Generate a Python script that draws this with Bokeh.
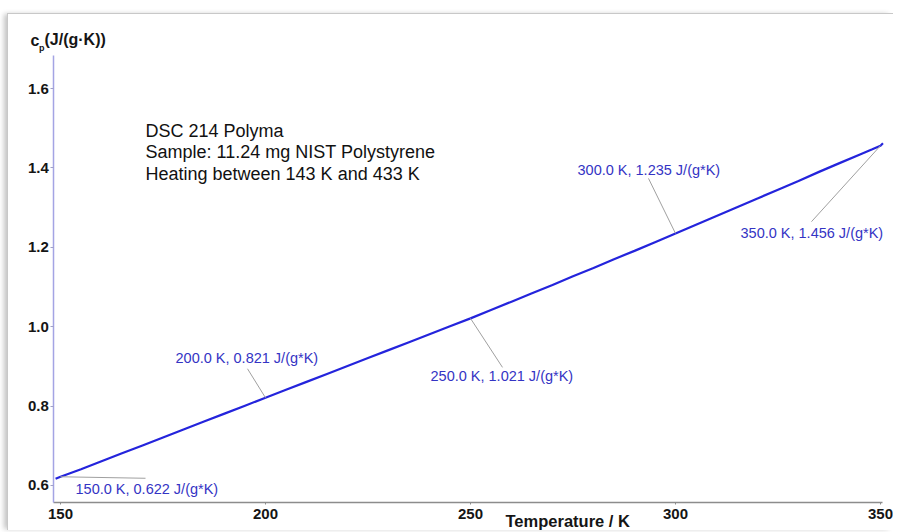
from bokeh.plotting import figure
from bokeh.models import Label, Range1d, FixedTicker, PrintfTickFormatter
from bokeh.embed import file_html
from bokeh.resources import INLINE

# ---- data ----
temp_K = [148.8, 150, 155, 160, 165, 170, 175, 180, 185, 190, 195, 200, 205, 210, 215, 220,
          225, 230, 235, 240, 245, 250, 255, 260, 265, 270, 275, 280, 285, 290, 295, 300,
          305, 310, 315, 320, 325, 330, 335, 340, 345, 348, 350, 350.6]
cp = [0.617, 0.622, 0.641, 0.661, 0.681, 0.701, 0.721, 0.741, 0.761, 0.781, 0.801, 0.821,
      0.841, 0.861, 0.881, 0.901, 0.921, 0.941, 0.961, 0.981, 1.001, 1.021, 1.042, 1.063,
      1.084, 1.105, 1.127, 1.148, 1.170, 1.191, 1.213, 1.235, 1.257, 1.279, 1.301, 1.323,
      1.345, 1.367, 1.390, 1.412, 1.434, 1.447, 1.456, 1.462]

ann_T = [150.0, 200.0, 250.0, 300.0, 350.0]
ann_cp = [0.622, 0.821, 1.021, 1.235, 1.456]
ann_text = ["150.0 K, 0.622 J/(g*K)", "200.0 K, 0.821 J/(g*K)", "250.0 K, 1.021 J/(g*K)",
            "300.0 K, 1.235 J/(g*K)", "350.0 K, 1.456 J/(g*K)"]

x_ticks = [150, 200, 250, 300, 350]
y_ticks = [0.6, 0.8, 1.0, 1.2, 1.4, 1.6]

info_lines = ["DSC 214 Polyma", "Sample: 11.24 mg NIST Polystyrene",
              "Heating between 143 K and 433 K"]

# ---- styling / layout ----
FONT = "Liberation Sans"
LINE_BLUE = "#2424dc"
TEXT_BLUE = "#3434c4"
# label offsets (dx, dy) from annotated point, screen px (dy positive = up)
label_off = [(15, -12), (-90, 40), (-40, -58), (-98, 63), (-140, -87)]
# leader-line end offsets from annotated point, screen px (dy positive = up)
leader_off = [(85, -1.5), (-18, 29), (32, -49), (-27, 55), (-69, -76)]

W, H = 886, 517                      # canvas = frame size in px
XS, XE = 137.317, 353.415            # full canvas x extent (data)
YS, YE = 0.48413, 1.78640            # full canvas y extent (data)
AX_X0, AX_X1 = 148.37, 350.5         # axis extents (data)
AX_Y0, AX_Y1 = 0.557, 1.683
sx = W / (XE - XS)
sy = H / (YE - YS)

p = figure(width=W, height=H, output_backend="svg", toolbar_location=None,
           x_range=Range1d(XS, XE), y_range=Range1d(YS, YE),
           min_border=0, min_border_left=0, min_border_right=0,
           min_border_top=0, min_border_bottom=0,
           styles={"margin-left": "7px", "margin-top": "13px",
                   "border-top": "1px solid #c8c8c8", "border-left": "1px solid #c8c8c8",
                   "box-shadow": "-4px 0 5px -1px #c4c4c4"})
p.outline_line_color = None
p.grid.visible = False
p.background_fill_color = "white"
p.border_fill_color = "white"

# axes drawn inside the frame at fixed locations
xa = p.xaxis[0]
xa.fixed_location = AX_Y0
xa.bounds = (AX_X0, AX_X1)
xa.ticker = FixedTicker(ticks=x_ticks)
xa.axis_line_color = "#8c8c8c"
xa.axis_line_width = 1.5
xa.major_tick_line_color = "#8c8c8c"
xa.major_tick_out = 2
xa.major_tick_in = 0
xa.minor_tick_line_color = None
xa.major_label_standoff = 4
xa.major_label_text_font = FONT
xa.major_label_text_font_size = "15px"
xa.major_label_text_font_style = "bold"
xa.major_label_text_color = "#151515"

ya = p.yaxis[0]
ya.fixed_location = AX_X0
ya.bounds = (AX_Y0, AX_Y1)
ya.ticker = FixedTicker(ticks=y_ticks)
ya.formatter = PrintfTickFormatter(format="%.1f")
ya.axis_line_color = "#a4a4e4"
ya.axis_line_width = 1.5
ya.major_tick_line_color = "#a0a0c8"
ya.major_tick_out = 3
ya.major_tick_in = 0
ya.minor_tick_line_color = None
ya.major_label_standoff = 2
ya.major_label_text_font = FONT
ya.major_label_text_font_size = "15px"
ya.major_label_text_font_style = "bold"
ya.major_label_text_color = "#151515"

# data line
p.line(temp_K, cp, line_color=LINE_BLUE, line_width=2.2)

# leader lines
x_end = [t + d[0] / sx for t, d in zip(ann_T, leader_off)]
y_end = [c + d[1] / sy for c, d in zip(ann_cp, leader_off)]
p.segment(x0=ann_T, y0=ann_cp, x1=x_end, y1=y_end, line_color="#a0a0a0", line_width=1)

# annotation labels
for t, c, txt, off in zip(ann_T, ann_cp, ann_text, label_off):
    p.add_layout(Label(x=t, y=c, x_offset=off[0], y_offset=off[1], text=txt,
                       text_font=FONT, text_font_size="14.5px", text_color=TEXT_BLUE,
                       text_baseline="middle", text_align="left"))

# info text block
for i, line in enumerate(info_lines):
    p.add_layout(Label(x=170.73, y=1.4942, y_offset=-21.5 * i, text=line,
                       text_font=FONT, text_font_size="18px", text_color="#111111",
                       text_baseline="middle", text_align="left"))

# axis titles
p.add_layout(Label(x=258.54, y=0.5118, text="Temperature / K", text_font=FONT,
                   text_font_size="16.5px", text_color="#151515", text_baseline="middle",
                   text_align="left", text_font_style="bold"))
p.add_layout(Label(x=142.68, y=1.7209, text="c", text_font=FONT, text_font_size="16px",
                   text_color="#151515", text_baseline="middle", text_align="left",
                   text_font_style="bold"))
p.add_layout(Label(x=142.68, y=1.7209, x_offset=8.5, y_offset=-7, text="p", text_font=FONT,
                   text_font_size="9px", text_color="#151515", text_baseline="middle",
                   text_align="left", text_font_style="bold"))
p.add_layout(Label(x=142.68, y=1.7209, x_offset=14, y_offset=1, text="(J/(g·K))",
                   text_font=FONT, text_font_size="16px", text_color="#151515",
                   text_baseline="middle", text_align="left", text_font_style="bold"))

open("out.html", "w").write(file_html(p, INLINE))
